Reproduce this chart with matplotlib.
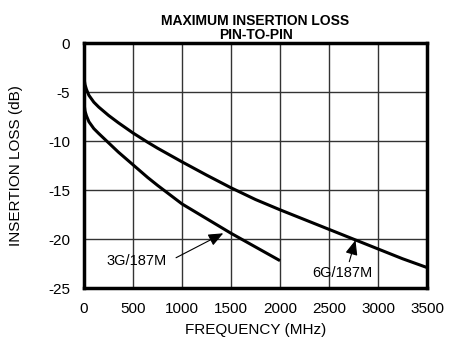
import matplotlib
matplotlib.use("Agg")
import matplotlib.pyplot as plt

plt.rcParams['font.family'] = ['Liberation Sans', 'DejaVu Sans']
plt.rcParams['axes.unicode_minus'] = False

# insertion loss, pin-to-pin
freq_6g = [0, 10, 25, 50, 100, 150, 250, 350, 500, 650, 750, 1000, 1250, 1500,
           1750, 2000, 2250, 2500, 2750, 3000, 3250, 3500]
loss_6g = [-3.56, -4.2, -4.7, -5.3, -6.0, -6.5, -7.35, -8.1, -9.15, -10.1, -10.7,
           -12.1, -13.45, -14.75, -15.95, -17.0, -18.0, -19.0, -20.0, -21.0, -22.0, -22.9]

freq_3g = [0, 10, 25, 50, 100, 150, 250, 350, 500, 650, 750, 1000, 1250, 1500,
           1750, 2000]
loss_3g = [-6.1, -6.9, -7.4, -8.0, -8.7, -9.2, -10.15, -11.1, -12.4, -13.7, -14.5,
           -16.4, -17.9, -19.4, -20.8, -22.2]

xticks = [0, 500, 1000, 1500, 2000, 2500, 3000, 3500]
yticks = [0, -5, -10, -15, -20, -25]

fig = plt.figure(figsize=(4.51, 3.45), dpi=100)
ax = fig.add_axes([0.1863, 0.165, 0.7605, 0.709])

ax.plot(freq_6g, loss_6g, color='black', lw=2.2, solid_capstyle='butt')
ax.plot(freq_3g, loss_3g, color='black', lw=2.2, solid_capstyle='butt')

ax.set_xlim(0, 3500)
ax.set_ylim(-25, 0)
ax.set_xticks(xticks)
ax.set_yticks(yticks)
ax.grid(True, color='#333333', lw=1.0)
ax.tick_params(axis='x', length=0, labelsize=11, pad=10)
ax.tick_params(axis='y', length=0, labelsize=11, pad=10)
for s in ax.spines.values():
    s.set_linewidth(2.5)

ax.set_xlabel('FREQUENCY (MHz)', fontsize=11, labelpad=5)
ax.set_ylabel('INSERTION LOSS (dB)', fontsize=11, labelpad=18)
ax.set_title('MAXIMUM INSERTION LOSS\nPIN-TO-PIN', fontsize=10, fontweight='bold',
             linespacing=1.05, pad=3)

arrow = dict(arrowstyle='-|>,head_length=0.6,head_width=0.25', color='black',
             lw=0.8, mutation_scale=15, shrinkA=0, shrinkB=0)
ax.annotate('', xy=(1421, -19.4), xytext=(939, -21.9), arrowprops=arrow)
ax.text(536, -22.2, '3G/187M', fontsize=10.5, ha='center', va='center')
ax.annotate('', xy=(2770, -20.1), xytext=(2707, -22.3), arrowprops=arrow)
ax.text(2638, -23.45, '6G/187M', fontsize=10.5, ha='center', va='center')

fig.savefig('out.png', dpi=100)
